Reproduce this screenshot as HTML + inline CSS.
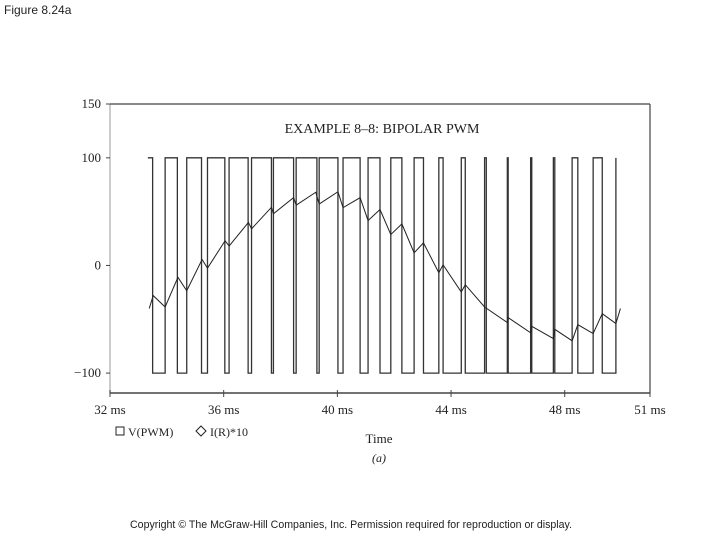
<!DOCTYPE html>
<html><head><meta charset="utf-8"><style>
body{margin:0;background:#fff;}
svg text{font-family:"Liberation Serif",serif;fill:#222;}
</style></head><body>
<svg id="chart" width="720" height="540" viewBox="0 0 720 540" xmlns="http://www.w3.org/2000/svg">
<text x="4" y="14" style="font-family:'Liberation Sans',sans-serif;font-size:12px">Figure 8.24a</text>
<text x="382" y="133" text-anchor="middle" font-size="14">EXAMPLE 8–8: BIPOLAR PWM</text>
<g id="axes"></g>
<g id="marks"></g>
<text x="379" y="443" text-anchor="middle" font-size="13">Time</text>
<text x="379" y="462" text-anchor="middle" font-size="12" font-style="italic">(a)</text>
<g font-size="12">
<rect x="116" y="427" width="8" height="8" fill="none" stroke="#222"/>
<text x="128" y="436">V(PWM)</text>
<path d="M201 426 L206 431 L201 436 L196 431 Z" fill="none" stroke="#222"/>
<text x="210" y="436">I(R)*10</text>
</g>
<text x="351" y="528" text-anchor="middle" style="font-family:'Liberation Sans',sans-serif;font-size:10.6px">Copyright © The McGraw-Hill Companies, Inc. Permission required for reproduction or display.</text>
</svg>
<script>
const xTicks=[32,36,40,44,48,51];
const xTickLabels=["32 ms","36 ms","40 ms","44 ms","48 ms","51 ms"];
const yTicks=[150,100,0,-100];
const yTickLabels=["150","100","0","−100"];
const pwmStart=33.33;
const pwmEdges=[33.50,33.94,34.37,34.70,35.22,35.43,36.04,36.19,36.86,36.98,37.68,37.75,38.46,38.55,39.28,39.36,40.02,40.20,40.80,41.08,41.50,41.88,42.27,42.70,43.03,43.57,43.72,44.36,44.50,45.18,45.24,45.98,46.01,46.80,46.84,47.60,47.65,48.26,48.46,49.00,49.32,49.80];
const pwmHigh=100, pwmLow=-100;
const curT=[33.38,33.52,33.94,34.39,34.70,35.24,35.43,36.05,36.19,36.87,36.98,37.68,37.75,38.46,38.55,39.24,39.36,40.02,40.20,40.80,41.08,41.50,41.88,42.27,42.70,43.03,43.57,43.72,44.36,44.50,45.18,45.98,46.01,46.80,46.84,47.60,47.65,48.26,48.46,49.00,49.32,49.80,49.96];
const curV=[-40,-28,-38.6,-11,-23.5,5.5,-2.5,23,18,40,34,54,48,63,56,68,57,68.5,53.7,63,41.7,52,28.7,38.6,11.7,21,-6.8,0.6,-24.7,-17.9,-38.6,-53,-48.5,-62.6,-56.5,-67.9,-59.3,-70,-55,-63.3,-44.8,-54,-40];
const X0=110,X1=650,Y0=104,Y1=393,XMIN=32,XMAX=51,YMIN=-118.5,YMAX=150;
const sx=t=>X0+(t-XMIN)/(XMAX-XMIN)*(X1-X0);
const sy=v=>Y1-(v-YMIN)/(YMAX-YMIN)*(Y1-Y0);
const NS="http://www.w3.org/2000/svg";
function mk(tag,attrs,parent){const e=document.createElementNS(NS,tag);for(const k in attrs)e.setAttribute(k,attrs[k]);parent.appendChild(e);return e;}
const axes=document.getElementById('axes'),marks=document.getElementById('marks');
let e;
e=mk('line',{x1:X0,y1:Y0,x2:X0,y2:Y1,stroke:'#bbb','stroke-width':1.5},axes);


e=mk('line',{x1:X0,y1:Y1,x2:X1,y2:Y1,stroke:'#444','stroke-width':1.5},axes);


e=mk('line',{x1:X0,y1:Y0,x2:X1,y2:Y0,stroke:'#444','stroke-width':1.2},axes);


e=mk('line',{x1:X1,y1:Y0,x2:X1,y2:Y1,stroke:'#444','stroke-width':1.2},axes);


xTicks.forEach((t,i)=>{
  e=mk('line',{x1:sx(t),y1:Y1-3,x2:sx(t),y2:Y1+4,stroke:'#444'},axes);
  
  
  e=mk('text',{x:sx(t),y:Y1+21,'text-anchor':'middle','font-size':13},axes);
  e.textContent=xTickLabels[i];
  
  
});
yTicks.forEach((v,i)=>{
  e=mk('line',{x1:X0-4,y1:sy(v),x2:X0,y2:sy(v),stroke:'#444'},axes);
  
  
  e=mk('text',{x:X0-9,y:sy(v)+4,'text-anchor':'end','font-size':13},axes);
  e.textContent=yTickLabels[i];
  
  
});
let d='M'+sx(pwmStart)+' '+sy(pwmHigh);let lv=pwmHigh;
pwmEdges.forEach(t=>{d+=' L'+sx(t)+' '+sy(lv);lv=(lv===pwmHigh?pwmLow:pwmHigh);d+=' L'+sx(t)+' '+sy(lv);});
e=mk('path',{d:d,fill:'none',stroke:'#333','stroke-width':1.3},marks);


let d2=curT.map((t,i)=>(i?'L':'M')+sx(t)+' '+sy(curV[i])).join(' ');
e=mk('path',{d:d2,fill:'none',stroke:'#222','stroke-width':1},marks);


</script>
</body></html>
